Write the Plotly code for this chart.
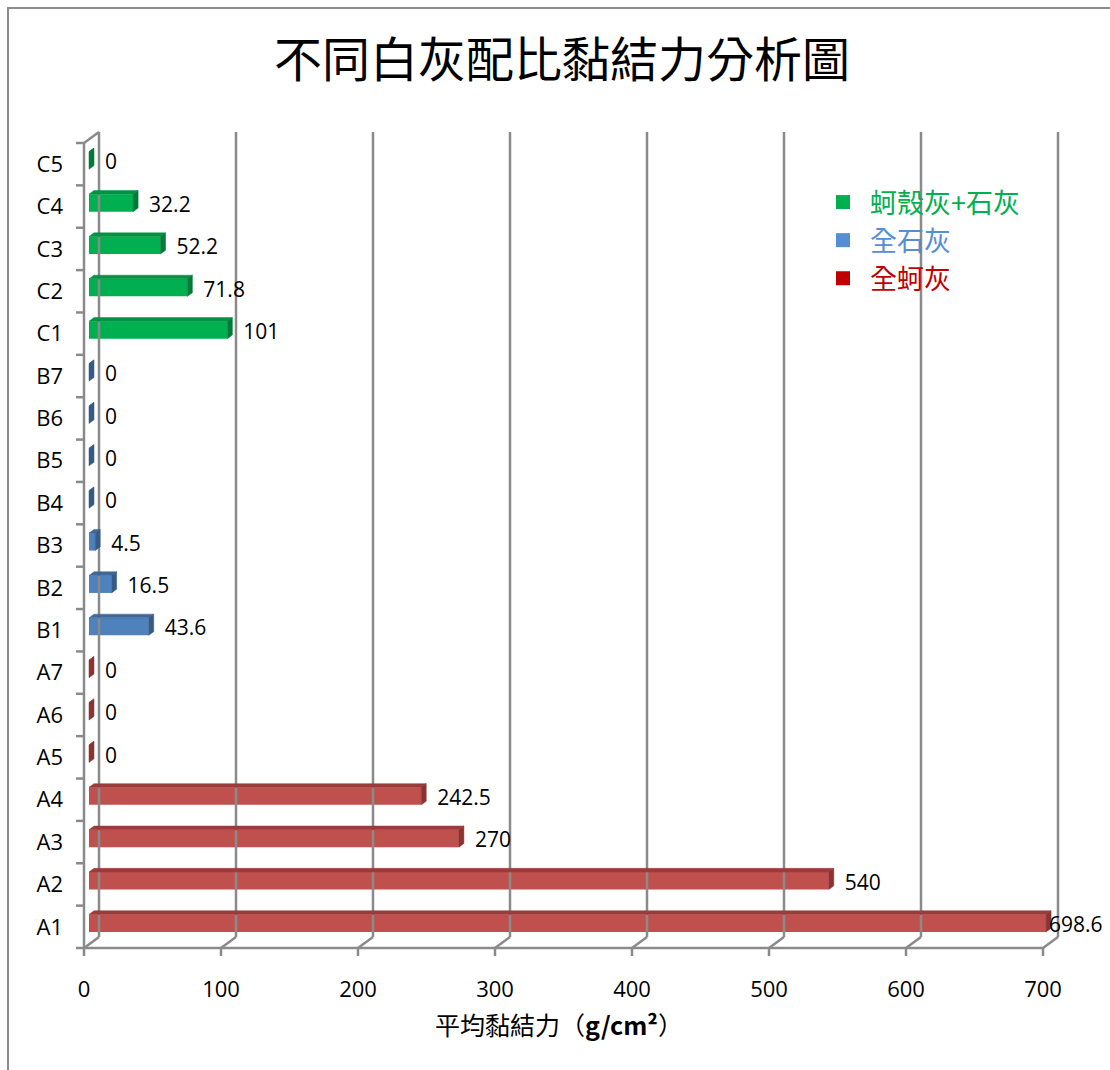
import plotly.graph_objects as go

# ---- data (bottom to top on the category axis) ----
cats_a = ["A1", "A2", "A3", "A4", "A5", "A6", "A7"]
vals_a = [698.6, 540, 270, 242.5, 0, 0, 0]
cats_b = ["B1", "B2", "B3", "B4", "B5", "B6", "B7"]
vals_b = [43.6, 16.5, 4.5, 0, 0, 0, 0]
cats_c = ["C1", "C2", "C3", "C4", "C5"]
vals_c = [101, 71.8, 52.2, 32.2, 0]
series_names = ["全蚵灰", "全石灰", "蚵殼灰+石灰"]
x_ticks = [0, 100, 200, 300, 400, 500, 600, 700]

title_text = "不同白灰配比黏結力分析圖"
x_title = "平均黏結力（<b>g/cm²</b>）"

# ---- styling ----
front_cols = ["#C0504D", "#4F81BD", "#00B050"]
top_cols = ["#9A3D3A", "#3F6898", "#009344"]
side_cols = ["#8A3432", "#355A86", "#007A38"]
legend_cols = ["#C00000", "#558ED5", "#00B050"]
grid_col = "#8A8A8A"
tick_font = dict(family="Open Sans, Liberation Sans, sans-serif", size=22, color="#000000")
label_font = dict(family="Open Sans, Liberation Sans, sans-serif", size=21, color="#000000")
cjk = "Noto Sans CJK TC, Noto Sans CJK SC, sans-serif"

# ---- canvas geometry ----
W, H = 1110, 1070
ML, MR, MT, MB = 74, 40, 126, 112
plot_w, plot_h = W - ML - MR, H - MT - MB
X0_PX, Y0_PX = 84, 948            # pixel position of value 0 / lower category edge
X_PX = 959 / 700                  # pixels per value unit
Y_PX = 805 / 19                   # pixels per category
x_range = [(ML - X0_PX) / X_PX, (W - MR - X0_PX) / X_PX]
y_range = [-0.5 - (H - MB - Y0_PX) / Y_PX, -0.5 + (Y0_PX - MT) / Y_PX]


def px_paper_x(px):
    return (px - ML) / plot_w


def px_paper_y(py):
    return (H - MB - py) / plot_h


# 3D box depth (back wall offset) and bar placement inside the depth
DX = 15 / X_PX
DY = 11 / Y_PX
F = 1 / 3
BASE = F * DX
LIFT = F * DY
BAR_H = 17.5 / Y_PX
DDX, DDY = F * DX, F * DY
LABEL_GAP = 21 / X_PX
LABEL_MAX = (1049 - X0_PX) / X_PX

all_cats = cats_a + cats_b + cats_c
n = len(all_cats)
groups = [(cats_a, vals_a), (cats_b, vals_b), (cats_c, vals_c)]

fig = go.Figure()

# ---- walls, floor and axis lines ----
gx, gy = [], []
top_c = n - 0.5
bot_c = -0.5
for v in x_ticks:
    # back wall line
    gx += [v + DX, v + DX, None]
    gy += [bot_c + DY, top_c + DY, None]
    # floor diagonal
    gx += [v, v + DX, None]
    gy += [bot_c, bot_c + DY, None]
    # tick mark
    gx += [v, v, None]
    gy += [bot_c, bot_c - 8 / Y_PX, None]
# front value axis and category axis
gx += [0, x_ticks[-1], None, 0, 0, None, 0, DX, None]
gy += [bot_c, bot_c, None, bot_c, top_c, None, top_c, top_c + DY, None]
for k in range(n + 1):
    gx += [0, -8 / X_PX, None]
    gy += [k - 0.5, k - 0.5, None]
fig.add_trace(go.Scatter(x=gx, y=gy, mode="lines", line=dict(color=grid_col, width=2.5),
                         hoverinfo="skip", showlegend=False))

# ---- bars ----
pos = 0
for gi, (cats, vals) in enumerate(groups):
    ys = [pos + i for i in range(len(cats))]
    pos += len(cats)
    # front faces
    fig.add_trace(go.Bar(
        x=vals, y=[y + LIFT for y in ys], base=[BASE] * len(vals), orientation="h",
        width=BAR_H, marker=dict(color=front_cols[gi], line=dict(width=0)),
        name=series_names[gi], showlegend=False, hoverinfo="skip"))
    # top and end faces
    tx, ty = [], []
    sx, sy = [], []
    for y, v in zip(ys, vals):
        yb = y + LIFT - BAR_H / 2
        yt = y + LIFT + BAR_H / 2
        x0, x1 = BASE, BASE + v
        tx += [x0, x1, x1 + DDX, x0 + DDX, x0, None]
        ty += [yt, yt, yt + DDY, yt + DDY, yt, None]
        sx += [x1, x1, x1 + DDX, x1 + DDX, x1, None]
        sy += [yb, yt, yt + DDY, yb + DDY, yb, None]
    fig.add_trace(go.Scatter(x=tx, y=ty, mode="lines", fill="toself", fillcolor=top_cols[gi],
                             line=dict(color=top_cols[gi], width=0.5),
                             hoverinfo="skip", showlegend=False))
    fig.add_trace(go.Scatter(x=sx, y=sy, mode="lines", fill="toself", fillcolor=side_cols[gi],
                             line=dict(color=side_cols[gi], width=0.5),
                             hoverinfo="skip", showlegend=False))
    # value labels
    fig.add_trace(go.Scatter(
        x=[min(v + LABEL_GAP, LABEL_MAX) for v in vals], y=ys, mode="text",
        text=[f"{v:g}" for v in vals], textposition="middle right",
        textfont=label_font, cliponaxis=False, hoverinfo="skip", showlegend=False))

# ---- legend entries ----
for gi in range(3):
    fig.add_trace(go.Scatter(
        x=[None], y=[None], mode="markers",
        marker=dict(symbol="square", size=14, color=legend_cols[gi]),
        name=f'<span style="color:{legend_cols[gi]}">{series_names[gi]}</span>',
        showlegend=True))

fig.update_layout(
    width=W, height=H,
    margin=dict(l=ML, r=MR, t=MT, b=MB),
    paper_bgcolor="white", plot_bgcolor="white",
    barmode="overlay",
    title=dict(text=title_text, x=562 / W, y=1 - 60 / H, xanchor="center", yanchor="middle",
               font=dict(family=cjk, size=48, color="#000000")),
    xaxis=dict(range=x_range, tickvals=x_ticks, ticktext=[str(t) for t in x_ticks],
               showgrid=False, zeroline=False, showline=False, ticks="",
               tickfont=tick_font, ticklabelstandoff=16, fixedrange=True),
    yaxis=dict(range=y_range, tickvals=list(range(n)), ticktext=all_cats,
               showgrid=False, zeroline=False, showline=False, ticks="",
               tickfont=tick_font, ticklabelstandoff=10, fixedrange=True),
    legend=dict(x=px_paper_x(816), y=px_paper_y(178), xanchor="left", yanchor="top",
                traceorder="reversed", bgcolor="rgba(0,0,0,0)", itemwidth=44,
                font=dict(family=cjk, size=27)),
    annotations=[dict(text=x_title, xref="paper", yref="paper",
                      x=px_paper_x(559), y=px_paper_y(1024), xanchor="center", yanchor="middle",
                      showarrow=False, font=dict(family=cjk, size=25, color="#000000"))],
    shapes=[dict(type="rect", xref="paper", yref="paper",
                 x0=px_paper_x(8), x1=px_paper_x(1130), y0=px_paper_y(1090), y1=px_paper_y(8),
                 line=dict(color="#8C8C8C", width=2), fillcolor="rgba(0,0,0,0)", layer="below")],
)

fig.write_html("out.html")
